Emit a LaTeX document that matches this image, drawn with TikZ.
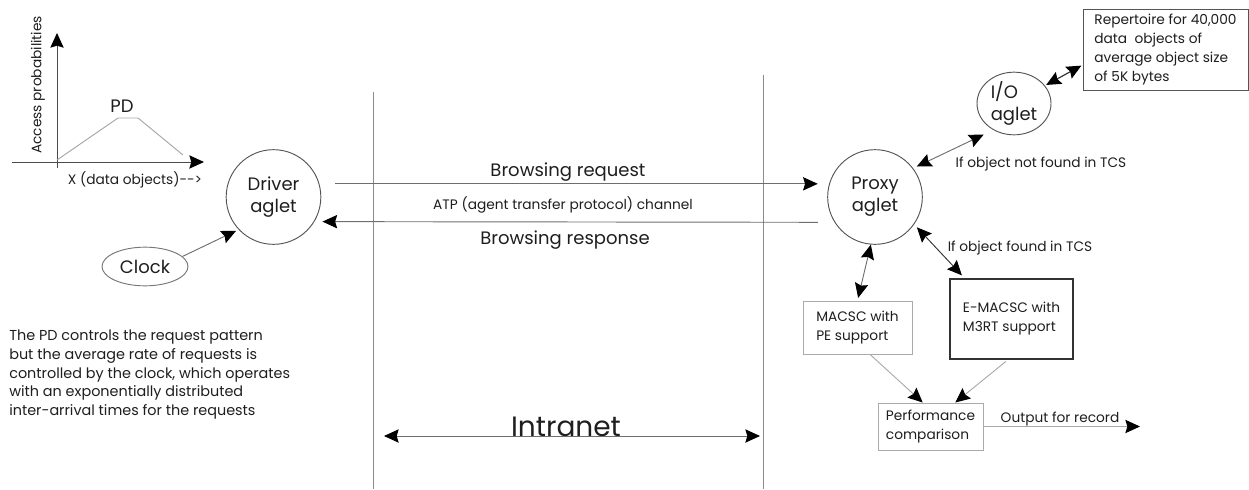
\documentclass[tikz,border=0pt]{standalone}
\usepackage{fontspec}
\setmainfont{Poppins}
\usetikzlibrary{arrows.meta,shapes.geometric,calc}
\definecolor{ink}{HTML}{1E1E1E}
\definecolor{wire}{HTML}{6E6E6E}
\definecolor{lightwire}{HTML}{AAAAAA}
\definecolor{rim}{HTML}{555555}
\begin{document}
\begin{tikzpicture}[x=0.75pt,y=-0.75pt,
  >={Stealth[length=11pt,width=10pt,inset=1.5pt,color=black]},
  every node/.style={text=ink},
  big/.style={font=\fontsize{13.5}{16.5}\selectfont},
  small/.style={font=\fontsize{10.3}{14.2}\selectfont},
  aglet/.style={circle,draw=rim,line width=0.7pt,minimum size=71pt,inner sep=0pt,
    align=center,big},
  ioaglet/.style={ellipse,draw=rim,line width=0.7pt,minimum width=55.5pt,
    minimum height=47pt,inner sep=0pt,align=left,big},
  clockshape/.style={ellipse,draw=rim!80,line width=0.7pt,minimum width=64.5pt,
    minimum height=29pt,inner sep=0pt,big},
  lightbox/.style={rectangle,draw=lightwire,line width=0.7pt,align=left,small,inner sep=0pt},
  darkbox/.style={rectangle,draw=black!80,line width=1.1pt,align=left,small,inner sep=0pt},
  link/.style={draw=wire,line width=0.7pt},
  faint/.style={draw=lightwire,line width=0.7pt}]
\useasboundingbox (0,0) rectangle (1249,489);

% access probability sketch
\coordinate (ybot) at (57,168);
\coordinate (ytop) at (57,33);
\coordinate (xleft) at (12,162);
\coordinate (xright) at (204,162);
\draw[link,draw=black!70,->] (ybot) -- (ytop);
\draw[link,draw=black!70,->] (xleft) -- (xright);
\draw[faint,draw=black!35] (57,160) -- (118,118) -- (138,118) -- (183,155);
\node[big] (pd) at (122,106) {PD};
\node[small,rotate=90] (ylab) at (38,85) {Access probabilities};
\node[small] (xlab) at (135,180) {X (data objects)-{}->};

% agents
\node[aglet] (driver) at (273.5,197) {Driver\\aglet};
\node[aglet] (proxy) at (875,197) {Proxy\\aglet};
\node[ioaglet] (io) at (1014,103.5) {I/O\\aglet};
\node[clockshape] (clock) at (145,266.5) {Clock};

% intranet boundaries
\draw[link,draw=wire!80] (373,92) -- (373,489);
\draw[link,draw=wire!80] (763,75) -- (763,489);

% ATP channel
\draw[link,->,shorten <=12pt,shorten >=8.5pt] (driver.16) -- (proxy.164);
\draw[link,->,shorten <=12.5pt,shorten >=6pt] (proxy.-148.5) -- (driver.-31.5);
\node[big] (req) at (568,172) {Browsing request};
\node[small] (atp) at (563,205) {ATP (agent transfer protocol) channel};
\node[big] (resp) at (565,240) {Browsing response};

\draw[link,->,shorten >=2pt] (clock.15) -- (driver.-137);

% intranet span
\coordinate (netL) at (384,436);
\coordinate (netR) at (760,436);
\node[font=\fontsize{21}{24}\selectfont,anchor=base,inner sep=0pt] (net) at (566,436) {Intranet};
\draw[link,<->] (netL) -- (netR);

% note on the request pattern
\node[anchor=north west,align=left,inner sep=0pt,
  font=\fontsize{10.8}{14}\selectfont] (note) at (9,330)
  {The PD controls the request pattern\\
   but the average rate of requests is\\
   controlled by the clock, which operates\\
   with an exponentially distributed\\
   inter-arrival times for the requests};

% repertoire and lookups
\node[rectangle,draw=rim,line width=0.7pt,small,align=left,inner sep=0pt,
  minimum width=123.75pt,minimum height=60.75pt] (rep) at (1165.5,49.5)
  {Repertoire for 40,000\\data\ \ objects of\\average object size\\of 5K bytes};
\draw[link,draw=black!80,line width=0.9pt,<->,shorten <=1pt,shorten >=1pt]
  (io.30) -- ([yshift=-11.6pt]rep.west);
\draw[link,<->,shorten <=3pt,shorten >=8pt] (proxy.37) -- (io.232);
\node[small] (miss) at (1041,164) {If object not found in TCS};

\node[lightbox,minimum width=81.75pt,minimum height=39.75pt]
  (macsc) at (857.5,327.5) {MACSC with\\PE support};
\node[darkbox,minimum width=92.25pt,minimum height=60pt]
  (emacsc) at (1011.5,319) {E-MACSC with\\M3RT support};
\node[lightbox,minimum width=78.75pt,minimum height=35.25pt]
  (perf) at (930.5,426.5) {Performance\\comparison};

\draw[link,<->,shorten <=0pt,shorten >=2pt] (proxy.265) -- (macsc.north);
\draw[link,draw=black!80,<->,shorten <=3pt,shorten >=3pt] (proxy.-35) -- (emacsc.139);
\node[small] (hit) at (1020,248) {If object found in TCS};

\draw[faint,->,shorten <=0pt] (macsc.-65) -- (perf.108);
\draw[faint,->,shorten <=2pt] (emacsc.-95) -- (perf.44);

\coordinate (outend) at (1140,426.5);
\draw[faint,->] (perf.east) -- (outend);
\node[small] (outlab) at (1060,419) {Output for record};
\end{tikzpicture}
\end{document}
